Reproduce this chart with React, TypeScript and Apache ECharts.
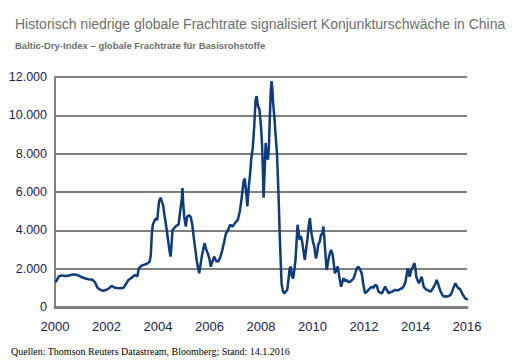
import React, { useEffect, useRef } from "react";
import * as echarts from "echarts";

const titleText = "Historisch niedrige globale Frachtrate signalisiert Konjunkturschwäche in China";
const subtitleText = "Baltic-Dry-Index – globale Frachtrate für Basisrohstoffe";
const sourceText = "Quellen: Thomson Reuters Datastream, Bloomberg; Stand: 14.1.2016";

const xTicks = [2000, 2002, 2004, 2006, 2008, 2010, 2012, 2014, 2016];
const yTicks = [0, 2000, 4000, 6000, 8000, 10000, 12000];

// decimal years
const years = [
  2000.0, 2000.05, 2000.15, 2000.25, 2000.4, 2000.55, 2000.7, 2000.85, 2001.0, 2001.15,
  2001.3, 2001.45, 2001.55, 2001.65, 2001.75, 2001.88, 2002.0, 2002.1, 2002.2, 2002.3,
  2002.4, 2002.55, 2002.66, 2002.78, 2002.85, 2002.95, 2003.1, 2003.2, 2003.25, 2003.35,
  2003.45, 2003.55, 2003.67, 2003.72, 2003.76, 2003.8, 2003.85, 2003.9, 2003.97, 2004.04,
  2004.1, 2004.15, 2004.2, 2004.25, 2004.32, 2004.38, 2004.45, 2004.49, 2004.53, 2004.56,
  2004.65, 2004.72, 2004.8, 2004.86, 2004.92, 2004.95, 2004.98, 2005.02, 2005.08, 2005.13,
  2005.2, 2005.27, 2005.33, 2005.4, 2005.46, 2005.5, 2005.56, 2005.6, 2005.65, 2005.7,
  2005.77, 2005.81, 2005.87, 2005.93, 2006.0, 2006.05, 2006.12, 2006.18, 2006.26, 2006.34,
  2006.42, 2006.5, 2006.57, 2006.64, 2006.72, 2006.8, 2006.9, 2007.0, 2007.1, 2007.18,
  2007.25, 2007.33, 2007.37, 2007.43, 2007.47, 2007.52, 2007.58, 2007.62, 2007.68, 2007.74,
  2007.79, 2007.83, 2007.88, 2007.94, 2008.0, 2008.04, 2008.08, 2008.1, 2008.14, 2008.18,
  2008.22, 2008.27, 2008.31, 2008.34, 2008.38, 2008.41, 2008.44, 2008.47, 2008.52, 2008.57,
  2008.62, 2008.66, 2008.7, 2008.73, 2008.77, 2008.8, 2008.85, 2008.9, 2008.96, 2009.02,
  2009.08, 2009.11, 2009.16, 2009.2, 2009.25, 2009.3, 2009.34, 2009.38, 2009.42, 2009.46,
  2009.5, 2009.55, 2009.6, 2009.65, 2009.7, 2009.75, 2009.8, 2009.85, 2009.9, 2009.93,
  2009.96, 2010.02, 2010.07, 2010.13, 2010.18, 2010.22, 2010.28, 2010.33, 2010.38, 2010.42,
  2010.46, 2010.49, 2010.55, 2010.6, 2010.64, 2010.72, 2010.77, 2010.81, 2010.87, 2010.93,
  2010.98, 2011.05, 2011.11, 2011.16, 2011.2, 2011.27, 2011.33, 2011.4, 2011.46, 2011.53,
  2011.6, 2011.67, 2011.72, 2011.78, 2011.83, 2011.91, 2011.97, 2012.04, 2012.11, 2012.18,
  2012.24, 2012.3, 2012.37, 2012.43, 2012.5, 2012.56, 2012.63, 2012.7, 2012.76, 2012.82,
  2012.88, 2012.96, 2013.03, 2013.09, 2013.15, 2013.22, 2013.3, 2013.35, 2013.42, 2013.48,
  2013.55, 2013.61, 2013.66, 2013.7, 2013.74, 2013.77, 2013.84, 2013.9, 2013.96, 2014.0,
  2014.03, 2014.08, 2014.13, 2014.2, 2014.24, 2014.28, 2014.32, 2014.38, 2014.45, 2014.52,
  2014.58, 2014.64, 2014.71, 2014.77, 2014.82, 2014.87, 2014.91, 2014.96, 2015.01, 2015.06,
  2015.1, 2015.17, 2015.23, 2015.3, 2015.36, 2015.42, 2015.49, 2015.55, 2015.6, 2015.66,
  2015.72, 2015.75, 2015.8, 2015.84, 2015.88, 2015.92, 2015.97, 2016.03,
];

const bdi = [
  1320, 1350, 1600, 1650, 1620, 1640, 1700, 1680, 1580, 1500,
  1450, 1420, 1300, 1000, 900, 840, 900, 980, 1100, 1020,
  990, 980, 1000, 1250, 1410, 1500, 1670, 1600, 2000, 2150,
  2200, 2250, 2350, 2700, 3800, 4300, 4450, 4600, 4550, 5500,
  5700, 5500, 5300, 4800, 4200, 3600, 2900, 2630, 3300, 4000,
  4150, 4250, 4300, 4980, 5600, 6200, 5400, 4700, 4200, 4700,
  4800, 4700, 4300, 3500, 2900, 2460, 2000, 1760, 2200, 2630,
  3100, 3330, 3000, 2810, 2500, 2100, 2400, 2630, 2400, 2370,
  2600, 2980, 3400, 3850, 4000, 4290, 4200, 4400, 4550, 5000,
  5700, 6600, 6700, 5900, 5250, 6200, 7000, 7700, 8300, 9500,
  10800, 11000, 10500, 10300, 9400, 8500, 6800, 5700, 7000, 8560,
  7900, 7690, 8500, 9780, 11300, 11780, 11400, 10650, 9900, 8910,
  8000, 6640, 5000, 3680, 2200, 1200, 850, 700, 800, 900,
  1600, 2000, 2100, 1600, 1500, 2000, 2460, 3400, 4290, 3900,
  3500, 3700, 3400, 2900, 2460, 3000, 3500, 4200, 4640, 4200,
  3850, 3400, 3150, 2540, 2800, 3240, 3400, 3770, 3800, 4200,
  3600, 2980, 1935, 2300, 2630, 2980, 2800, 2460, 1760, 1950,
  2110, 1500, 1060, 1300, 1500, 1350, 1410, 1300, 1320, 1400,
  1500, 1800, 2020, 2100, 2000, 1760, 1200, 717, 800, 900,
  980, 1060, 1000, 1150, 1100, 800, 750, 717, 900, 1060,
  900, 717, 780, 800, 850, 890, 870, 890, 950, 980,
  1100, 1320, 1700, 2020, 1800, 1580, 1935, 2100, 2290, 2000,
  1580, 1400, 1240, 1450, 1580, 1300, 1060, 950, 890, 850,
  800, 900, 1060, 1200, 1410, 1250, 1060, 850, 717, 600,
  540, 560, 540, 580, 630, 800, 1060, 1240, 1100, 980,
  950, 890, 750, 630, 560, 455, 430, 390,
];

const fmtDE = (v: number) => String(v).replace(/\B(?=(\d{3})+(?!\d))/g, ".");

export default function App() {
  const ref = useRef<HTMLDivElement>(null);
  useEffect(() => {
    if (!ref.current) return;
    const chart = echarts.init(ref.current, undefined, { renderer: "svg" });
    const labelColor = "#1c2350";
    chart.setOption({
      animation: false,
      backgroundColor: "#ffffff",
      title: [
        {
          text: titleText,
          left: 10,
          top: 12,
          textStyle: { fontFamily: "Liberation Sans", fontSize: 14, fontWeight: "normal", color: "#6e6e6e" },
        },
        {
          text: subtitleText,
          left: 10,
          top: 35,
          textStyle: { fontFamily: "Liberation Sans", fontSize: 9.5, fontWeight: "bold", color: "#6e6e6e" },
        },
        {
          text: sourceText,
          left: 6,
          top: 341,
          textStyle: { fontFamily: "Liberation Serif", fontSize: 10, fontWeight: "normal", color: "#000000" },
        },
      ],
      grid: { left: 55, right: 48, top: 77, bottom: 56 },
      xAxis: {
        type: "value",
        min: xTicks[0],
        max: xTicks[xTicks.length - 1],
        interval: 2,
        axisLine: { show: true, onZero: false, lineStyle: { color: "#808080", width: 3 } },
        axisTick: { show: false },
        splitLine: { show: false },
        axisLabel: {
          margin: 13,
          fontFamily: "Liberation Sans",
          fontSize: 13,
          color: labelColor,
          formatter: (v: number) => String(v),
        },
      },
      yAxis: {
        type: "value",
        min: yTicks[0],
        max: yTicks[yTicks.length - 1],
        interval: 2000,
        axisLine: { show: true, lineStyle: { color: "#808080", width: 2 } },
        axisTick: { show: false },
        splitLine: { show: true, lineStyle: { color: "#808080", width: 2 } },
        axisLabel: {
          margin: 8,
          fontFamily: "Liberation Sans",
          fontSize: 12.5,
          color: labelColor,
          formatter: (v: number) => fmtDE(v),
        },
      },
      series: [
        {
          type: "line",
          data: years.map((y, i) => [y, bdi[i]]),
          showSymbol: false,
          smooth: false,
          lineStyle: { color: "#0e3b7c", width: 2.5 },
        },
      ],
    });
    return () => chart.dispose();
  }, []);
  return <div ref={ref} style={{ width: 515, height: 363, position: "absolute", left: 0, top: 0 }} />;
}
